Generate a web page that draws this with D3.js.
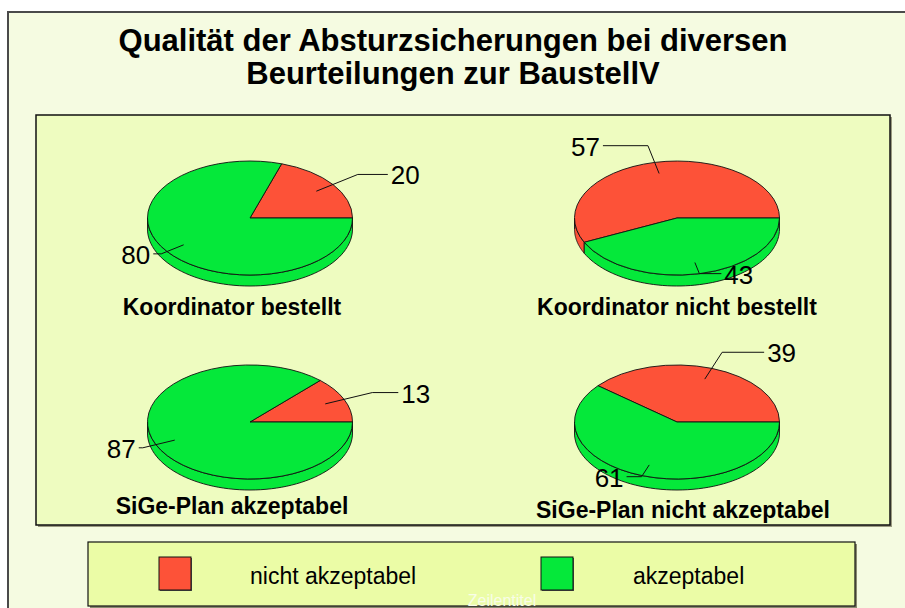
<!DOCTYPE html>
<html>
<head>
<meta charset="utf-8">
<script src="https://cdn.jsdelivr.net/npm/d3@7"></script>
<style>
  body { margin: 0; background: #fff; }
  text { font-family: "Liberation Sans", Arial, sans-serif; }
</style>
</head>
<body>
<svg id="chart" width="905" height="608"></svg>
<script>
// data
var titleLines = ["Qualität der Absturzsicherungen bei diversen", "Beurteilungen zur BaustellV"]
var categories = ["nicht akzeptabel", "akzeptabel"]
var pieNames = ["Koordinator bestellt", "Koordinator nicht bestellt", "SiGe-Plan akzeptabel", "SiGe-Plan nicht akzeptabel"]
var nichtAkzeptabel = [20, 57, 13, 39]
var akzeptabel = [80, 43, 87, 61]

// layout (not data)
var colors = ["#fd5238", "#05e83a"]
var pieCenters = [[250, 218], [677, 218], [250, 422], [677, 422]]
var captionPos = [[232, 315], [677, 315], [232, 514], [683, 518]]
// label leader: elbow radius factor, horizontal run
var leaderLayout = [
  [[1.3, 30], [1.07, -8]],
  [[1.3, -45], [1.0, 22]],
  [[1.3, 26], [1.14, -4]],
  [[1.3, 42], [1.02, -15]]
]
var rx = 102.5, ry = 57, depth = 11

var svg = d3.select('#chart')

// outer frame
svg.append('rect')
  .attr('x', 8).attr('y', 12).attr('width', 920).attr('height', 620)
  .attr('fill', '#f5fbe1').attr('stroke', '#4a4a4a').attr('stroke-width', 2)

// title
svg.append('g').selectAll('text')
  .data(titleLines).enter()
  .append('text')
  .attr('x', 453)
  .attr('y', function (d, i) { return 51 + i * 33 })
  .attr('text-anchor', 'middle')
  .style('font-size', '31px')
  .style('font-weight', 'bold')
  .text(function (d) { return d })

// plot area
svg.append('rect')
  .attr('x', 38).attr('y', 117).attr('width', 854).attr('height', 410)
  .attr('fill', '#9a9a80')
svg.append('rect')
  .attr('x', 36).attr('y', 115).attr('width', 854).attr('height', 410)
  .attr('fill', '#eefcc0').attr('stroke', '#111').attr('stroke-width', 1.5)

var pie = d3.pie().sort(null).startAngle(Math.PI / 2).endAngle(Math.PI / 2 - 2 * Math.PI)
var arc = d3.arc().innerRadius(0).outerRadius(1)

function ellPt(cx, cy, t, dy) {
  return [cx + rx * Math.cos(t), cy - ry * Math.sin(t) + (dy || 0)]
}

pieNames.forEach(function (name, p) {
  var cx = pieCenters[p][0], cy = pieCenters[p][1]
  var values = [nichtAkzeptabel[p], akzeptabel[p]]
  var slices = pie(values)
  var g = svg.append('g')

  // side walls (front half only)
  slices.forEach(function (s, i) {
    var t0 = Math.max(Math.PI / 2 - s.startAngle, Math.PI)
    var t1 = Math.min(Math.PI / 2 - s.endAngle, 2 * Math.PI)
    if (t1 <= t0) return
    var n = 60, pts = []
    for (var k = 0; k <= n; k++) pts.push(ellPt(cx, cy, t0 + (t1 - t0) * k / n, 0))
    for (var k = n; k >= 0; k--) pts.push(ellPt(cx, cy, t0 + (t1 - t0) * k / n, depth))
    g.append('path')
      .attr('d', d3.line()(pts) + 'Z')
      .attr('fill', colors[i])
      .attr('stroke', '#111')
      .attr('stroke-width', 0.9)
  })

  // top face
  g.append('g')
    .attr('transform', 'translate(' + cx + ',' + cy + ') scale(' + rx + ',' + ry + ')')
    .selectAll('path')
    .data(slices).enter()
    .append('path')
    .attr('d', arc)
    .attr('fill', function (d, i) { return colors[i] })
    .attr('stroke', '#111')
    .attr('stroke-width', 0.9)
    .attr('vector-effect', 'non-scaling-stroke')

  // labels with leader lines
  slices.forEach(function (s, i) {
    var mid = Math.PI / 2 - (s.startAngle + s.endAngle) / 2
    var lay = leaderLayout[p][i]
    var a = [cx + 0.8 * rx * Math.cos(mid), cy - 0.8 * ry * Math.sin(mid)]
    var b = [cx + lay[0] * rx * Math.cos(mid), cy - lay[0] * ry * Math.sin(mid)]
    var c = [b[0] + lay[1], b[1]]
    g.append('path')
      .attr('d', d3.line()([a, b, c]))
      .attr('fill', 'none')
      .attr('stroke', '#111')
      .attr('stroke-width', 1)
    g.append('text')
      .attr('x', c[0] + (lay[1] >= 0 ? 3 : -3))
      .attr('y', c[1] + 10)
      .attr('text-anchor', lay[1] >= 0 ? 'start' : 'end')
      .style('font-size', '26px')
      .text(s.data)
  })

  // caption
  svg.append('text')
    .attr('x', captionPos[p][0])
    .attr('y', captionPos[p][1])
    .attr('text-anchor', 'middle')
    .style('font-size', '23px')
    .style('font-weight', 'bold')
    .text(name)
})

// legend
svg.append('rect')
  .attr('x', 90).attr('y', 544).attr('width', 767).attr('height', 64)
  .attr('fill', '#8a8a70')
svg.append('rect')
  .attr('x', 88).attr('y', 542).attr('width', 767).attr('height', 64)
  .attr('fill', '#ebfca6').attr('stroke', '#111').attr('stroke-width', 1.2)

var legend = svg.selectAll('.legend')
  .data(categories).enter()
  .append('g')
  .attr('class', 'legend')
  .attr('transform', function (d, i) { return 'translate(' + (159 + i * 382) + ',557)' })

legend.append('rect')
  .attr('x', 1).attr('y', 1).attr('width', 32).attr('height', 33)
  .attr('fill', '#555')
legend.append('rect')
  .attr('width', 32).attr('height', 33)
  .attr('fill', function (d, i) { return colors[i] })
  .attr('stroke', '#111').attr('stroke-width', 1)
legend.append('text')
  .attr('x', function (d, i) { return i === 0 ? 91 : 92 })
  .attr('y', 27)
  .style('font-size', '23px')
  .text(function (d) { return d })

svg.append('text')
  .attr('x', 502).attr('y', 606)
  .attr('text-anchor', 'middle')
  .attr('fill', '#f8fde8')
  .style('font-size', '16px')
  .text('Zeilentitel')
</script>
</body>
</html>
